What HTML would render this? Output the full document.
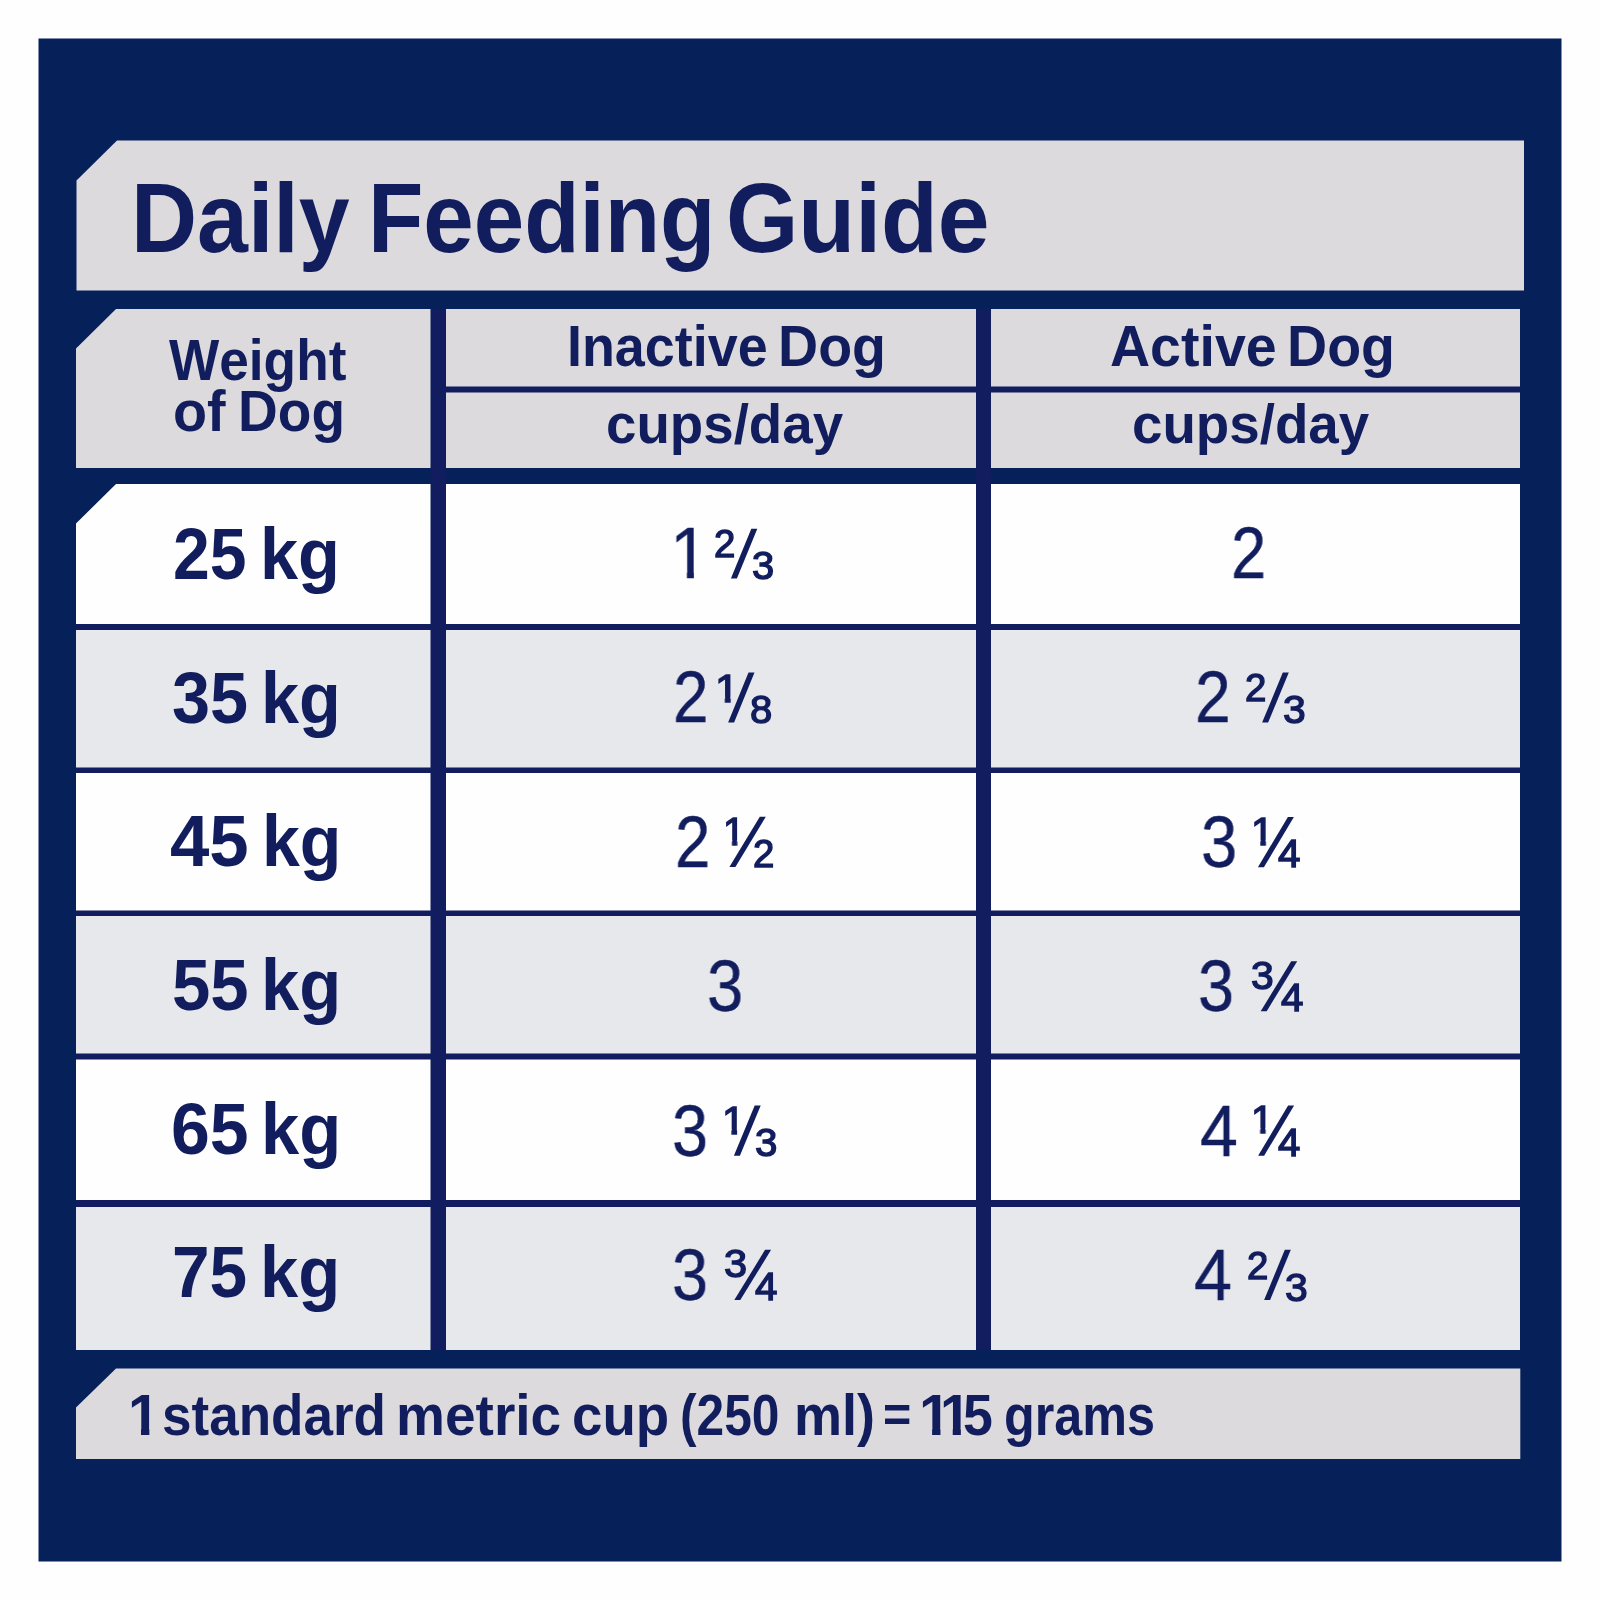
<!DOCTYPE html>
<html lang="en">
<head>
<meta charset="utf-8">
<title>Daily Feeding Guide</title>
<style>
html,body{margin:0;padding:0;background:#fefefe;}
body{width:1600px;height:1600px;position:relative;overflow:hidden;font-family:"Liberation Sans",sans-serif;color:#121d5e;}
svg{position:absolute;left:0;top:0;display:block;}
.t{position:absolute;white-space:pre;line-height:1;transform-origin:0 0;font-kerning:none;font-variant-ligatures:none;letter-spacing:0;}
</style>
</head>
<body>
<svg width="1600" height="1600" viewBox="0 0 1600 1600">
<rect x="38.5" y="38.5" width="1523" height="1523" fill="#06205a"/>
<polygon fill="#dcdadd" points="117,140.5 1524,140.5 1524,290.5 76.5,290.5 76.5,180.5"/>
<rect x="430.5" y="309" width="15.5" height="1041" fill="#111d5e"/>
<rect x="976" y="309" width="15" height="1041" fill="#111d5e"/>
<rect x="446" y="380" width="530" height="20" fill="#111d5e"/>
<rect x="991" y="380" width="529" height="20" fill="#111d5e"/>
<rect x="76" y="524" width="1444" height="800" fill="#111d5e"/>
<polygon fill="#dcdadd" points="116,309 430.5,309 430.5,468 76,468 76,348.5"/>
<rect x="446" y="309" width="530" height="77.5" fill="#dcdadd"/>
<rect x="446" y="392.5" width="530" height="75.5" fill="#dcdadd"/>
<rect x="991" y="309" width="529" height="77.5" fill="#dcdadd"/>
<rect x="991" y="392.5" width="529" height="75.5" fill="#dcdadd"/>
<polygon fill="#fefefe" points="116,484 430.5,484 430.5,624 76,624 76,523.5"/>
<rect x="446" y="484" width="530" height="140" fill="#fefefe"/>
<rect x="991" y="484" width="529" height="140" fill="#fefefe"/>
<rect x="76" y="630" width="354.5" height="137.5" fill="#e7e8ec"/>
<rect x="446" y="630" width="530" height="137.5" fill="#e7e8ec"/>
<rect x="991" y="630" width="529" height="137.5" fill="#e7e8ec"/>
<rect x="76" y="773" width="354.5" height="137.5" fill="#fefefe"/>
<rect x="446" y="773" width="530" height="137.5" fill="#fefefe"/>
<rect x="991" y="773" width="529" height="137.5" fill="#fefefe"/>
<rect x="76" y="916" width="354.5" height="137.5" fill="#e7e8ec"/>
<rect x="446" y="916" width="530" height="137.5" fill="#e7e8ec"/>
<rect x="991" y="916" width="529" height="137.5" fill="#e7e8ec"/>
<rect x="76" y="1059.5" width="354.5" height="140.5" fill="#fefefe"/>
<rect x="446" y="1059.5" width="530" height="140.5" fill="#fefefe"/>
<rect x="991" y="1059.5" width="529" height="140.5" fill="#fefefe"/>
<rect x="76" y="1207" width="354.5" height="143" fill="#e7e8ec"/>
<rect x="446" y="1207" width="530" height="143" fill="#e7e8ec"/>
<rect x="991" y="1207" width="529" height="143" fill="#e7e8ec"/>
<polygon fill="#dcdadd" points="116,1368.5 1520.3,1368.5 1520.3,1459 76,1459 76,1407.5"/>
<g fill="#121d5e"><polygon points="730.90,578.50 736.90,578.50 757.30,528.70 751.30,528.70"/><polygon points="728.10,722.60 734.10,722.60 754.50,672.50 748.50,672.50"/><polygon points="729.40,867.00 735.40,867.00 765.80,816.80 759.80,816.80"/><polygon points="733.90,1155.80 739.90,1155.80 760.70,1105.40 754.70,1105.40"/><polygon points="734.30,1300.10 740.30,1300.10 771.10,1249.80 765.10,1249.80"/><polygon points="1262.10,722.60 1268.10,722.60 1288.80,672.60 1282.80,672.60"/><polygon points="1257.90,867.20 1263.90,867.20 1293.90,817.00 1287.90,817.00"/><polygon points="1260.70,1011.20 1266.70,1011.20 1297.20,961.30 1291.20,961.30"/><polygon points="1258.10,1155.80 1264.10,1155.80 1294.10,1105.40 1288.10,1105.40"/><polygon points="1264.10,1300.10 1270.10,1300.10 1290.80,1249.80 1284.80,1249.80"/></g>
</svg>
<span class="t" style="left:130.88px;top:169.43px;font-size:98.11px;font-weight:700;transform:scaleX(0.9322);">Daily</span>
<span class="t" style="left:367.69px;top:169.43px;font-size:98.11px;font-weight:700;transform:scaleX(0.9236);">Feeding</span>
<span class="t" style="left:726.19px;top:169.43px;font-size:98.11px;font-weight:700;transform:scaleX(0.9478);">Guide</span>
<span class="t" style="left:168.55px;top:331.74px;font-size:57.12px;font-weight:700;transform:scaleX(0.9319);">Weight</span>
<span class="t" style="left:173.22px;top:383.04px;font-size:57.12px;font-weight:700;transform:scaleX(0.9769);">of</span>
<span class="t" style="left:237.72px;top:383.04px;font-size:57.12px;font-weight:700;transform:scaleX(0.9643);">Dog</span>
<span class="t" style="left:566.70px;top:318.44px;font-size:57.12px;font-weight:700;transform:scaleX(0.9432);">Inactive</span>
<span class="t" style="left:778.18px;top:318.44px;font-size:57.12px;font-weight:700;transform:scaleX(0.9730);">Dog</span>
<span class="t" style="left:605.86px;top:397.41px;font-size:55.50px;font-weight:700;transform:scaleX(0.9856);">cups/day</span>
<span class="t" style="left:1109.92px;top:318.44px;font-size:57.12px;font-weight:700;transform:scaleX(0.9722);">Active</span>
<span class="t" style="left:1286.78px;top:318.44px;font-size:57.12px;font-weight:700;transform:scaleX(0.9730);">Dog</span>
<span class="t" style="left:1131.86px;top:397.41px;font-size:55.50px;font-weight:700;transform:scaleX(0.9860);">cups/day</span>
<span class="t" style="left:172.51px;top:517.93px;font-size:72.83px;font-weight:700;transform:scaleX(0.9076);">25</span>
<span class="t" style="left:259.62px;top:517.93px;font-size:72.83px;font-weight:700;transform:scaleX(0.9408);">kg</span>
<span class="t" style="left:171.83px;top:661.53px;font-size:72.83px;font-weight:700;transform:scaleX(0.9390);">35</span>
<span class="t" style="left:261.23px;top:661.53px;font-size:72.83px;font-weight:700;transform:scaleX(0.9382);">kg</span>
<span class="t" style="left:170.23px;top:805.33px;font-size:72.83px;font-weight:700;transform:scaleX(0.9720);">45</span>
<span class="t" style="left:262.45px;top:805.33px;font-size:72.83px;font-weight:700;transform:scaleX(0.9342);">kg</span>
<span class="t" style="left:171.58px;top:949.03px;font-size:72.83px;font-weight:700;transform:scaleX(0.9460);">55</span>
<span class="t" style="left:261.20px;top:949.03px;font-size:72.83px;font-weight:700;transform:scaleX(0.9435);">kg</span>
<span class="t" style="left:170.54px;top:1092.63px;font-size:72.83px;font-weight:700;transform:scaleX(0.9591);">65</span>
<span class="t" style="left:261.40px;top:1092.63px;font-size:72.83px;font-weight:700;transform:scaleX(0.9435);">kg</span>
<span class="t" style="left:171.60px;top:1235.93px;font-size:72.83px;font-weight:700;transform:scaleX(0.9281);">75</span>
<span class="t" style="left:259.80px;top:1235.93px;font-size:72.83px;font-weight:700;transform:scaleX(0.9435);">kg</span>
<span class="t" style="left:669.57px;top:518.37px;font-size:71.97px;font-weight:400;transform:scaleX(0.9581);clip-path:polygon(-9px -9px,49.03px -9px,49.03px 53.56px,24.91px 53.56px,24.91px 62.57px,17.65px 62.57px,17.65px 53.56px,-9px 53.56px);-webkit-text-stroke:0.40px #121d5e;will-change:transform;">1</span>
<span class="t" style="left:713.58px;top:525.22px;font-size:38.36px;font-weight:400;transform:scaleX(0.9956);-webkit-text-stroke:1.40px #121d5e;will-change:transform;">2</span>
<span class="t" style="left:752.18px;top:547.22px;font-size:38.36px;font-weight:400;transform:scaleX(1.0391);-webkit-text-stroke:1.40px #121d5e;will-change:transform;">3</span>
<span class="t" style="left:672.80px;top:662.47px;font-size:71.97px;font-weight:400;transform:scaleX(0.8845);-webkit-text-stroke:0.40px #121d5e;will-change:transform;">2</span>
<span class="t" style="left:715.25px;top:669.62px;font-size:38.36px;font-weight:400;transform:scaleX(1.1233);clip-path:polygon(-9px -9px,30.34px -9px,30.34px 27.12px,13.99px 27.12px,13.99px 33.95px,8.70px 33.95px,8.70px 27.12px,-9px 27.12px);-webkit-text-stroke:1.40px #121d5e;will-change:transform;">1</span>
<span class="t" style="left:749.76px;top:691.02px;font-size:38.36px;font-weight:400;transform:scaleX(1.0443);-webkit-text-stroke:1.40px #121d5e;will-change:transform;">8</span>
<span class="t" style="left:675.21px;top:806.87px;font-size:71.97px;font-weight:400;transform:scaleX(0.8815);-webkit-text-stroke:0.40px #121d5e;will-change:transform;">2</span>
<span class="t" style="left:722.91px;top:812.72px;font-size:38.36px;font-weight:400;transform:scaleX(1.0270);clip-path:polygon(-9px -9px,30.34px -9px,30.34px 27.12px,13.99px 27.12px,13.99px 33.95px,8.70px 33.95px,8.70px 27.12px,-9px 27.12px);-webkit-text-stroke:1.40px #121d5e;will-change:transform;">1</span>
<span class="t" style="left:753.28px;top:834.82px;font-size:38.36px;font-weight:400;transform:scaleX(0.9956);-webkit-text-stroke:1.40px #121d5e;will-change:transform;">2</span>
<span class="t" style="left:706.52px;top:951.27px;font-size:71.97px;font-weight:400;transform:scaleX(0.9056);-webkit-text-stroke:0.40px #121d5e;will-change:transform;">3</span>
<span class="t" style="left:671.83px;top:1096.07px;font-size:71.97px;font-weight:400;transform:scaleX(0.8997);-webkit-text-stroke:0.40px #121d5e;will-change:transform;">3</span>
<span class="t" style="left:721.91px;top:1102.22px;font-size:38.36px;font-weight:400;transform:scaleX(1.0805);clip-path:polygon(-9px -9px,30.34px -9px,30.34px 27.12px,13.99px 27.12px,13.99px 33.95px,8.70px 33.95px,8.70px 27.12px,-9px 27.12px);-webkit-text-stroke:1.40px #121d5e;will-change:transform;">1</span>
<span class="t" style="left:755.37px;top:1124.22px;font-size:38.36px;font-weight:400;transform:scaleX(1.0501);-webkit-text-stroke:1.40px #121d5e;will-change:transform;">3</span>
<span class="t" style="left:671.83px;top:1240.37px;font-size:71.97px;font-weight:400;transform:scaleX(0.8997);-webkit-text-stroke:0.40px #121d5e;will-change:transform;">3</span>
<span class="t" style="left:724.32px;top:1245.22px;font-size:38.36px;font-weight:400;transform:scaleX(1.0831);-webkit-text-stroke:1.40px #121d5e;will-change:transform;">3</span>
<span class="t" style="left:755.08px;top:1267.92px;font-size:38.36px;font-weight:400;transform:scaleX(1.0501);-webkit-text-stroke:1.40px #121d5e;will-change:transform;">4</span>
<span class="t" style="left:1230.72px;top:518.37px;font-size:71.97px;font-weight:400;transform:scaleX(0.8784);-webkit-text-stroke:0.40px #121d5e;will-change:transform;">2</span>
<span class="t" style="left:1195.18px;top:662.47px;font-size:71.97px;font-weight:400;transform:scaleX(0.8906);-webkit-text-stroke:0.40px #121d5e;will-change:transform;">2</span>
<span class="t" style="left:1244.87px;top:669.02px;font-size:38.36px;font-weight:400;transform:scaleX(1.0013);-webkit-text-stroke:1.40px #121d5e;will-change:transform;">2</span>
<span class="t" style="left:1283.44px;top:691.02px;font-size:38.36px;font-weight:400;transform:scaleX(1.0666);-webkit-text-stroke:1.40px #121d5e;will-change:transform;">3</span>
<span class="t" style="left:1201.02px;top:807.17px;font-size:71.97px;font-weight:400;transform:scaleX(0.9056);-webkit-text-stroke:0.40px #121d5e;will-change:transform;">3</span>
<span class="t" style="left:1251.05px;top:812.72px;font-size:38.36px;font-weight:400;transform:scaleX(1.0698);clip-path:polygon(-9px -9px,30.34px -9px,30.34px 27.12px,13.99px 27.12px,13.99px 33.95px,8.70px 33.95px,8.70px 27.12px,-9px 27.12px);-webkit-text-stroke:1.40px #121d5e;will-change:transform;">1</span>
<span class="t" style="left:1277.88px;top:835.02px;font-size:38.36px;font-weight:400;transform:scaleX(1.0501);-webkit-text-stroke:1.40px #121d5e;will-change:transform;">4</span>
<span class="t" style="left:1198.03px;top:951.27px;font-size:71.97px;font-weight:400;transform:scaleX(0.8997);-webkit-text-stroke:0.40px #121d5e;will-change:transform;">3</span>
<span class="t" style="left:1250.84px;top:956.72px;font-size:38.36px;font-weight:400;transform:scaleX(1.0666);-webkit-text-stroke:1.40px #121d5e;will-change:transform;">3</span>
<span class="t" style="left:1281.28px;top:979.02px;font-size:38.36px;font-weight:400;transform:scaleX(1.0501);-webkit-text-stroke:1.40px #121d5e;will-change:transform;">4</span>
<span class="t" style="left:1200.44px;top:1095.67px;font-size:71.97px;font-weight:400;transform:scaleX(0.9458);-webkit-text-stroke:0.40px #121d5e;will-change:transform;">4</span>
<span class="t" style="left:1251.33px;top:1101.32px;font-size:38.36px;font-weight:400;transform:scaleX(1.0484);clip-path:polygon(-9px -9px,30.34px -9px,30.34px 27.12px,13.99px 27.12px,13.99px 33.95px,8.70px 33.95px,8.70px 27.12px,-9px 27.12px);-webkit-text-stroke:1.40px #121d5e;will-change:transform;">1</span>
<span class="t" style="left:1278.28px;top:1123.62px;font-size:38.36px;font-weight:400;transform:scaleX(1.0449);-webkit-text-stroke:1.40px #121d5e;will-change:transform;">4</span>
<span class="t" style="left:1193.73px;top:1239.97px;font-size:71.97px;font-weight:400;transform:scaleX(0.9513);-webkit-text-stroke:0.40px #121d5e;will-change:transform;">4</span>
<span class="t" style="left:1246.88px;top:1246.52px;font-size:38.36px;font-weight:400;transform:scaleX(0.9956);-webkit-text-stroke:1.40px #121d5e;will-change:transform;">2</span>
<span class="t" style="left:1285.14px;top:1268.52px;font-size:38.36px;font-weight:400;transform:scaleX(1.0666);-webkit-text-stroke:1.40px #121d5e;will-change:transform;">3</span>
<span class="t" style="left:127.61px;top:1387.24px;font-size:57.12px;font-weight:700;transform:scaleX(0.9962);clip-path:polygon(-9px -9px,40.77px -9px,40.77px 40.74px,21.42px 40.74px,21.42px 49.51px,13.08px 49.51px,13.08px 40.74px,-9px 40.74px);">1</span>
<span class="t" style="left:162.03px;top:1387.24px;font-size:57.12px;font-weight:700;transform:scaleX(0.9288);">standard</span>
<span class="t" style="left:395.77px;top:1387.24px;font-size:57.12px;font-weight:700;transform:scaleX(0.9638);">metric</span>
<span class="t" style="left:571.56px;top:1387.24px;font-size:57.12px;font-weight:700;transform:scaleX(0.9579);">cup</span>
<span class="t" style="left:679.52px;top:1387.24px;font-size:57.12px;font-weight:700;transform:scaleX(0.8704);">(250</span>
<span class="t" style="left:793.64px;top:1387.24px;font-size:57.12px;font-weight:700;transform:scaleX(0.9459);">ml)</span>
<span class="t" style="left:883.49px;top:1390.14px;font-size:49.48px;font-weight:700;transform:scaleX(0.9793);">=</span>
<span class="t" style="left:918.59px;top:1387.24px;font-size:57.12px;font-weight:700;transform:scaleX(1.0020);clip-path:polygon(-9px -9px,40.77px -9px,40.77px 40.74px,21.42px 40.74px,21.42px 49.51px,13.08px 49.51px,13.08px 40.74px,-9px 40.74px);">1</span>
<span class="t" style="left:940.30px;top:1387.24px;font-size:57.12px;font-weight:700;transform:scaleX(0.9731);clip-path:polygon(-9px -9px,40.77px -9px,40.77px 40.74px,21.42px 40.74px,21.42px 49.51px,13.08px 49.51px,13.08px 40.74px,-9px 40.74px);">1</span>
<span class="t" style="left:963.05px;top:1387.24px;font-size:57.12px;font-weight:700;transform:scaleX(0.9394);">5</span>
<span class="t" style="left:1003.93px;top:1387.24px;font-size:57.12px;font-weight:700;transform:scaleX(0.8815);">grams</span>
</body>
</html>
